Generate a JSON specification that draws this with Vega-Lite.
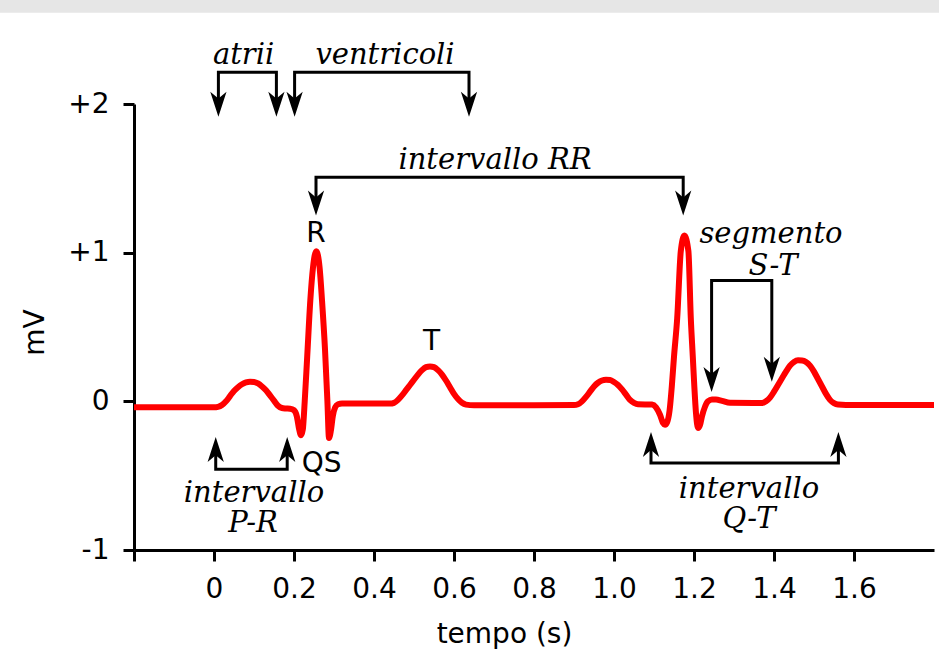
{
  "$schema": "https://vega.github.io/schema/vega-lite/v6.json",
  "width": 800,
  "height": 446,
  "autosize": {"type": "none"},
  "padding": {"left": 134, "top": 104, "right": 5, "bottom": 99},
  "background": "white",
  "config": {
    "view": {"stroke": null},
    "axis": {
      "grid": false,
      "domainColor": "black",
      "domainWidth": 3,
      "tickColor": "black",
      "tickWidth": 3,
      "tickSize": 11,
      "labelFont": "DejaVu Sans",
      "labelFontSize": 28,
      "labelColor": "black",
      "labelPadding": 14,
      "titleFont": "DejaVu Sans",
      "titleFontSize": 28,
      "titleColor": "black",
      "titleFontWeight": "normal"
    }
  },
  "datasets": {
    "band": [{"t": -0.54, "t2": 1.82, "v": 2.614, "v2": 2.75}],
    "ecg": [
      {"t": -0.2, "v": -0.04}, {"t": -0.1, "v": -0.04}, {"t": 0.0, "v": -0.04},
      {"t": 0.01, "v": -0.037}, {"t": 0.02, "v": -0.025}, {"t": 0.03, "v": 0.0},
      {"t": 0.04, "v": 0.035}, {"t": 0.05, "v": 0.07}, {"t": 0.06, "v": 0.095},
      {"t": 0.07, "v": 0.115}, {"t": 0.08, "v": 0.127}, {"t": 0.09, "v": 0.132},
      {"t": 0.1, "v": 0.13}, {"t": 0.11, "v": 0.12}, {"t": 0.12, "v": 0.1},
      {"t": 0.13, "v": 0.075}, {"t": 0.14, "v": 0.04}, {"t": 0.15, "v": 0.005},
      {"t": 0.16, "v": -0.03}, {"t": 0.17, "v": -0.045}, {"t": 0.18, "v": -0.048},
      {"t": 0.19, "v": -0.05}, {"t": 0.2, "v": -0.06}, {"t": 0.207, "v": -0.1},
      {"t": 0.213, "v": -0.19}, {"t": 0.2175, "v": -0.228}, {"t": 0.222, "v": -0.19},
      {"t": 0.2268, "v": 0.0}, {"t": 0.233, "v": 0.3}, {"t": 0.2408, "v": 0.68},
      {"t": 0.2475, "v": 0.9}, {"t": 0.2557, "v": 1.01}, {"t": 0.264, "v": 0.9},
      {"t": 0.27, "v": 0.68}, {"t": 0.2775, "v": 0.35}, {"t": 0.2835, "v": 0.0},
      {"t": 0.2875, "v": -0.247}, {"t": 0.292, "v": -0.2}, {"t": 0.297, "v": -0.1},
      {"t": 0.303, "v": -0.04}, {"t": 0.31, "v": -0.02}, {"t": 0.32, "v": -0.015},
      {"t": 0.4, "v": -0.015}, {"t": 0.44, "v": -0.015}, {"t": 0.45, "v": -0.01},
      {"t": 0.46, "v": 0.01}, {"t": 0.47, "v": 0.04}, {"t": 0.48, "v": 0.075},
      {"t": 0.49, "v": 0.11}, {"t": 0.5, "v": 0.145}, {"t": 0.51, "v": 0.18},
      {"t": 0.52, "v": 0.21}, {"t": 0.53, "v": 0.23}, {"t": 0.54, "v": 0.235},
      {"t": 0.55, "v": 0.23}, {"t": 0.56, "v": 0.21}, {"t": 0.57, "v": 0.18},
      {"t": 0.58, "v": 0.14}, {"t": 0.59, "v": 0.095}, {"t": 0.6, "v": 0.05},
      {"t": 0.61, "v": 0.015}, {"t": 0.62, "v": -0.01}, {"t": 0.63, "v": -0.022},
      {"t": 0.65, "v": -0.027}, {"t": 0.8, "v": -0.027}, {"t": 0.9, "v": -0.025},
      {"t": 0.91, "v": -0.02}, {"t": 0.92, "v": 0.0}, {"t": 0.93, "v": 0.03},
      {"t": 0.94, "v": 0.065}, {"t": 0.95, "v": 0.1}, {"t": 0.96, "v": 0.125},
      {"t": 0.97, "v": 0.14}, {"t": 0.98, "v": 0.145}, {"t": 0.99, "v": 0.143},
      {"t": 1.0, "v": 0.13}, {"t": 1.01, "v": 0.11}, {"t": 1.02, "v": 0.08},
      {"t": 1.03, "v": 0.045}, {"t": 1.04, "v": 0.01}, {"t": 1.05, "v": -0.01},
      {"t": 1.06, "v": -0.02}, {"t": 1.095, "v": -0.022}, {"t": 1.105, "v": -0.04},
      {"t": 1.115, "v": -0.09}, {"t": 1.1225, "v": -0.145}, {"t": 1.1275, "v": -0.158},
      {"t": 1.133, "v": -0.14}, {"t": 1.139, "v": -0.06}, {"t": 1.1445, "v": 0.1},
      {"t": 1.15, "v": 0.3}, {"t": 1.158, "v": 0.56}, {"t": 1.167, "v": 1.01},
      {"t": 1.176, "v": 1.115}, {"t": 1.186, "v": 1.01}, {"t": 1.192, "v": 0.56},
      {"t": 1.197, "v": 0.3}, {"t": 1.2008, "v": 0.1}, {"t": 1.205, "v": -0.08},
      {"t": 1.21, "v": -0.18}, {"t": 1.215, "v": -0.16}, {"t": 1.22, "v": -0.1},
      {"t": 1.227, "v": -0.04}, {"t": 1.235, "v": 0.0}, {"t": 1.245, "v": 0.012},
      {"t": 1.255, "v": 0.012}, {"t": 1.27, "v": 0.003}, {"t": 1.29, "v": -0.01},
      {"t": 1.37, "v": -0.012}, {"t": 1.38, "v": 0.0}, {"t": 1.39, "v": 0.025},
      {"t": 1.4, "v": 0.065}, {"t": 1.41, "v": 0.11}, {"t": 1.42, "v": 0.155},
      {"t": 1.43, "v": 0.2}, {"t": 1.44, "v": 0.24}, {"t": 1.45, "v": 0.265},
      {"t": 1.46, "v": 0.276}, {"t": 1.47, "v": 0.275}, {"t": 1.48, "v": 0.265},
      {"t": 1.49, "v": 0.24}, {"t": 1.5, "v": 0.2}, {"t": 1.51, "v": 0.15},
      {"t": 1.52, "v": 0.1}, {"t": 1.53, "v": 0.05}, {"t": 1.54, "v": 0.01},
      {"t": 1.55, "v": -0.012}, {"t": 1.56, "v": -0.022}, {"t": 1.58, "v": -0.025},
      {"t": 1.8, "v": -0.025}
    ],
    "brackets": [
      {"id": "atrii", "ord": 1, "t": 0.011, "v": 2.0}, {"id": "atrii", "ord": 2, "t": 0.011, "v": 2.213},
      {"id": "atrii", "ord": 3, "t": 0.156, "v": 2.213}, {"id": "atrii", "ord": 4, "t": 0.156, "v": 2.0},
      {"id": "ventricoli", "ord": 1, "t": 0.2015, "v": 2.0}, {"id": "ventricoli", "ord": 2, "t": 0.2015, "v": 2.213},
      {"id": "ventricoli", "ord": 3, "t": 0.6375, "v": 2.213}, {"id": "ventricoli", "ord": 4, "t": 0.6375, "v": 2.0},
      {"id": "RR", "ord": 1, "t": 0.255, "v": 1.33}, {"id": "RR", "ord": 2, "t": 0.255, "v": 1.507},
      {"id": "RR", "ord": 3, "t": 1.173, "v": 1.507}, {"id": "RR", "ord": 4, "t": 1.173, "v": 1.33},
      {"id": "ST", "ord": 1, "t": 1.244, "v": 0.14}, {"id": "ST", "ord": 2, "t": 1.244, "v": 0.813},
      {"id": "ST", "ord": 3, "t": 1.3945, "v": 0.813}, {"id": "ST", "ord": 4, "t": 1.3945, "v": 0.21},
      {"id": "PR", "ord": 1, "t": 0.0043, "v": -0.32}, {"id": "PR", "ord": 2, "t": 0.0043, "v": -0.457},
      {"id": "PR", "ord": 3, "t": 0.183, "v": -0.457}, {"id": "PR", "ord": 4, "t": 0.183, "v": -0.32},
      {"id": "QT", "ord": 1, "t": 1.0925, "v": -0.29}, {"id": "QT", "ord": 2, "t": 1.0925, "v": -0.415},
      {"id": "QT", "ord": 3, "t": 1.561, "v": -0.415}, {"id": "QT", "ord": 4, "t": 1.561, "v": -0.29}
    ],
    "heads": [
      {"t": 0.011, "v": 1.915, "dir": "down"}, {"t": 0.156, "v": 1.915, "dir": "down"},
      {"t": 0.2015, "v": 1.915, "dir": "down"}, {"t": 0.6375, "v": 1.915, "dir": "down"},
      {"t": 0.255, "v": 1.25, "dir": "down"}, {"t": 1.173, "v": 1.25, "dir": "down"},
      {"t": 1.244, "v": 0.063, "dir": "down"}, {"t": 1.3945, "v": 0.131, "dir": "down"},
      {"t": 0.0043, "v": -0.24, "dir": "up"}, {"t": 0.183, "v": -0.24, "dir": "up"},
      {"t": 1.0925, "v": -0.206, "dir": "up"}, {"t": 1.561, "v": -0.206, "dir": "up"}
    ],
    "notes": [
      {"t": 0.074, "v": 2.272, "label": "atrii"},
      {"t": 0.4275, "v": 2.272, "label": "ventricoli"},
      {"t": 0.7025, "v": 1.564, "label": "intervallo RR"},
      {"t": 1.3925, "v": 1.062, "label": "segmento"},
      {"t": 1.3975, "v": 0.853, "label": "S-T"},
      {"t": 0.1, "v": -0.679, "label": "intervallo"},
      {"t": 0.0975, "v": -0.88, "label": "P-R"},
      {"t": 1.3375, "v": -0.652, "label": "intervallo"},
      {"t": 1.3375, "v": -0.85, "label": "Q-T"}
    ],
    "waves": [
      {"t": 0.255, "v": 1.071, "label": "R"},
      {"t": 0.544, "v": 0.343, "label": "T"},
      {"t": 0.269, "v": -0.475, "label": "QS"}
    ]
  },
  "encoding": {
    "x": {
      "field": "t",
      "type": "quantitative",
      "scale": {"domain": [-0.2, 1.8], "nice": false, "zero": false},
      "axis": {
        "values": [-0.2, 0, 0.2, 0.4, 0.6, 0.8, 1.0, 1.2, 1.4, 1.6],
        "labelExpr": "datum.value < -0.1 ? '' : (datum.value == 0 ? '0' : format(datum.value, '.1f'))",
        "labelFlush": false,
        "labelOverlap": false,
        "title": "tempo (s)",
        "titleX": 370,
        "titleY": 92,
        "titleBaseline": "alphabetic",
        "titleAlign": "center",
        "titleAnchor": null
      }
    },
    "y": {
      "field": "v",
      "type": "quantitative",
      "scale": {"domain": [-1, 2], "nice": false, "zero": false},
      "axis": {
        "values": [-1, 0, 1, 2],
        "labelExpr": "datum.value > 0 ? '+' + datum.value : '' + datum.value",
        "labelFlush": false,
        "labelOverlap": false,
        "title": "mV",
        "titleX": -91,
        "titleY": 228,
        "titleAngle": 270,
        "titleBaseline": "alphabetic",
        "titleAlign": "center",
        "titleAnchor": null
      }
    }
  },
  "layer": [
    {
      "data": {"name": "band"},
      "mark": {"type": "rect", "color": "#e6e6e6", "clip": false},
      "encoding": {"x2": {"field": "t2"}, "y2": {"field": "v2"}}
    },
    {
      "data": {"name": "ecg"},
      "mark": {"type": "line", "color": "#ff0000", "strokeWidth": 6, "interpolate": "monotone", "strokeJoin": "round"},
      "encoding": {"order": {"field": "t", "type": "quantitative"}}
    },
    {
      "data": {"name": "brackets"},
      "mark": {"type": "line", "color": "black", "strokeWidth": 3, "clip": false, "strokeJoin": "miter"},
      "encoding": {
        "detail": {"field": "id", "type": "nominal"},
        "order": {"field": "ord", "type": "quantitative"}
      }
    },
    {
      "data": {"name": "heads"},
      "mark": {"type": "point", "filled": true, "color": "black", "opacity": 1, "size": 625, "strokeWidth": 0, "clip": false},
      "encoding": {
        "shape": {
          "field": "dir",
          "type": "nominal",
          "scale": {"domain": ["down", "up"], "range": ["M0,0L-0.65,-2L0,-1.45L0.65,-2Z", "M0,0L-0.65,2L0,1.45L0.65,2Z"]},
          "legend": null
        }
      }
    },
    {
      "data": {"name": "notes"},
      "mark": {"type": "text", "font": "DejaVu Serif", "fontStyle": "italic", "fontSize": 29, "color": "black", "align": "center", "baseline": "alphabetic"},
      "encoding": {"text": {"field": "label"}}
    },
    {
      "data": {"name": "waves"},
      "mark": {"type": "text", "font": "DejaVu Sans", "fontSize": 28, "color": "black", "align": "center", "baseline": "alphabetic"},
      "encoding": {"text": {"field": "label"}}
    }
  ]
}
